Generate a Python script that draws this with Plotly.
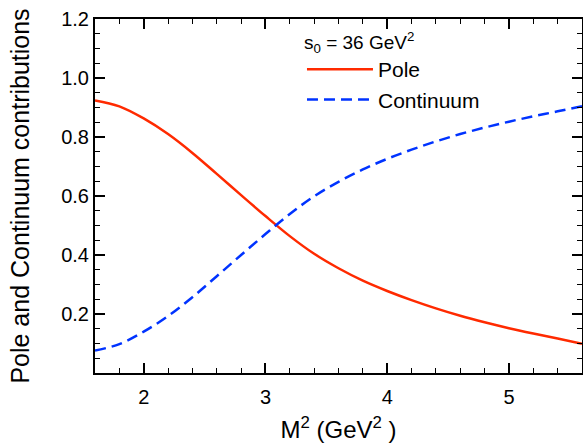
import plotly.graph_objects as go

m2 = [1.6, 1.8, 2.0, 2.2, 2.4, 2.6, 2.8, 3.0, 3.2, 3.4, 3.6, 3.8, 4.0,
      4.2, 4.4, 4.6, 4.8, 5.0, 5.2, 5.4, 5.6]
pole = [0.924, 0.904, 0.863, 0.810, 0.746, 0.675, 0.603, 0.532, 0.464, 0.404,
        0.355, 0.313, 0.278, 0.247, 0.219, 0.194, 0.172, 0.152, 0.134, 0.117, 0.099]
continuum = [0.076, 0.098, 0.140, 0.193, 0.257, 0.328, 0.400, 0.471, 0.539, 0.599,
             0.648, 0.690, 0.726, 0.757, 0.785, 0.810, 0.832, 0.852, 0.870, 0.887, 0.904]

FONT = "Liberation Sans, Arial, Helvetica, sans-serif"

fig = go.Figure()
fig.add_trace(go.Scatter(x=m2, y=pole, mode="lines", name="Pole",
                         line=dict(color="#ff2a00", width=2.5, shape="spline", smoothing=1),
                         legendgroup="a"))
fig.add_trace(go.Scatter(x=m2, y=continuum, mode="lines", name="Continuum",
                         line=dict(color="#0033ff", width=2.5, dash="11px,6px",
                                   shape="spline", smoothing=1),
                         legendgroup="b"))

axis_common = dict(
    showline=True, linecolor="black", linewidth=2, mirror="ticks",
    ticks="inside", ticklen=10, tickwidth=1.6, tickcolor="black",
    showgrid=False, zeroline=False, automargin=False,
    tickfont=dict(family=FONT, size=20, color="black"),
)

fig.update_xaxes(range=[1.6, 5.6], tickvals=[2, 3, 4, 5], ticktext=["2", "3", "4", "5"],
                 ticklabelstandoff=5,
                 minor=dict(dtick=0.2, tick0=0, ticks="inside", ticklen=5, tickwidth=1.3,
                            tickcolor="black", showgrid=False),
                 title=dict(text="M<sup>2</sup> (GeV<sup>2</sup> )",
                            font=dict(family=FONT, size=24, color="black"), standoff=14),
                 **axis_common)
fig.update_yaxes(range=[0, 1.2], tickvals=[0.0, 0.2, 0.4, 0.6, 0.8, 1.0, 1.2],
                 ticktext=["", "0.2", "0.4", "0.6", "0.8", "1.0", "1.2"],
                 minor=dict(dtick=0.05, tick0=0, ticks="inside", ticklen=5, tickwidth=1.3,
                            tickcolor="black", showgrid=False),
                 title=dict(text="Pole and Continuum contributions",
                            font=dict(family=FONT, size=25, color="black"), standoff=24),
                 **axis_common)

fig.update_layout(
    width=583, height=448,
    margin=dict(l=95, r=1, t=19, b=75, autoexpand=False),
    paper_bgcolor="white", plot_bgcolor="white",
    font=dict(family=FONT, size=16, color="black"),
    legend=dict(x=0.425, y=0.985, xanchor="left", yanchor="top",
                bgcolor="rgba(0,0,0,0)", borderwidth=0,
                font=dict(family=FONT, size=21, color="black"),
                title=dict(text="s<sub>0</sub> = 36 GeV<sup>2</sup>",
                           font=dict(family=FONT, size=19, color="black"), side="top"),
                tracegroupgap=0, itemwidth=66),
    showlegend=True,
)

fig.write_html("out.html", config={"displayModeBar": False},
               post_script="document.body.style.margin='0px';")
